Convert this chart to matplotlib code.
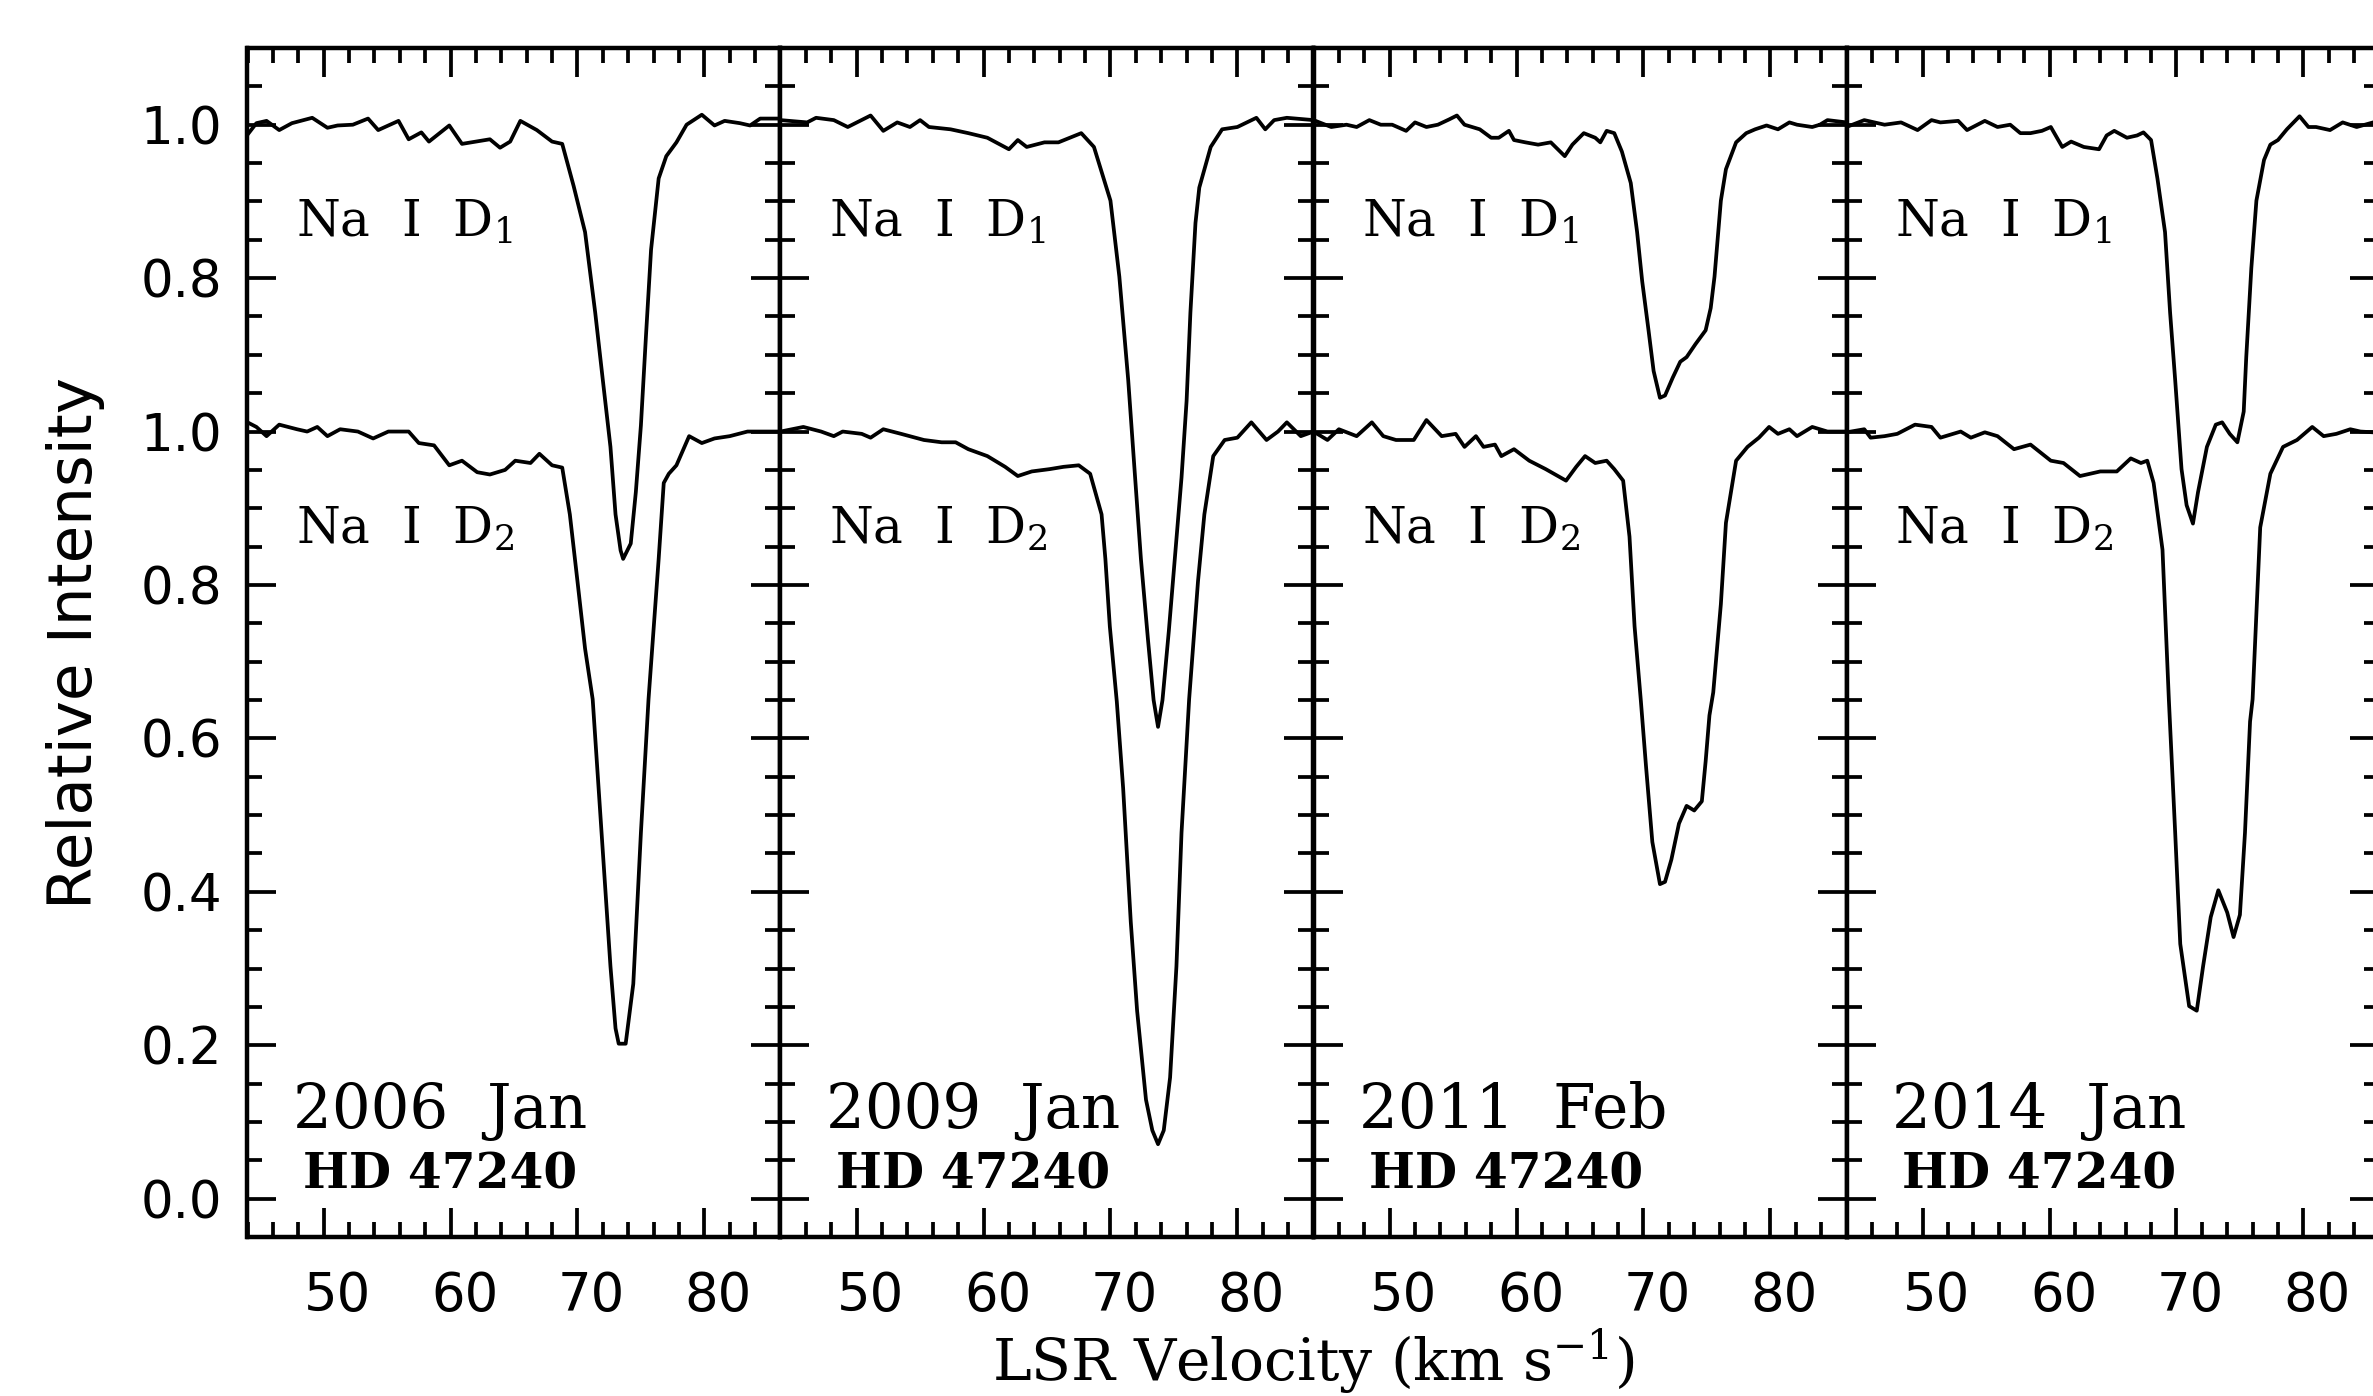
import numpy as np
import matplotlib.pyplot as plt
import matplotlib.transforms as mtransforms
from matplotlib.ticker import FixedLocator, MultipleLocator

plt.rcParams['mathtext.fontset'] = 'dejavuserif'

# ── Data (LSR velocity in km/s, relative intensity) ──

epochs = ["2006 Jan", "2009 Jan", "2011 Feb", "2014 Jan"]
star = "HD 47240"

# 2006 Jan
v_d1_2006 = [44.0, 44.7, 45.5, 46.5, 47.5, 49.1, 50.3, 51.1, 52.3, 53.5, 54.3, 55.9,
             56.7, 57.7, 58.3, 59.9, 60.9, 63.1, 63.9, 64.7, 65.5, 66.8, 68.0, 68.8,
             69.7, 70.6, 71.4, 72.0, 72.6, 73.0, 73.4, 73.6, 74.2, 74.6, 75.0, 75.4,
             75.8, 76.4, 77.0, 77.8, 78.6, 79.8, 80.8, 81.6, 82.8, 83.6, 84.4, 86.0]
f_d1_2006 = [0.987, 1.002, 1.005, 0.993, 1.002, 1.009, 0.996, 0.999, 1.000, 1.008, 0.993, 1.005,
             0.981, 0.990, 0.978, 0.999, 0.975, 0.981, 0.970, 0.978, 1.005, 0.993, 0.978, 0.975,
             0.920, 0.860, 0.755, 0.667, 0.580, 0.492, 0.445, 0.434, 0.454, 0.521, 0.608, 0.725,
             0.837, 0.930, 0.959, 0.977, 1.000, 1.013, 0.999, 1.005, 1.002, 0.999, 1.008, 1.008]
v_d2_2006 = [44.0, 44.7, 45.5, 46.5, 47.9, 48.7, 49.5, 50.3, 51.3, 52.7, 53.9, 55.1,
             56.7, 57.5, 58.7, 59.9, 60.9, 62.1, 63.1, 64.3, 65.1, 66.3, 67.0, 68.0,
             68.8, 69.4, 70.0, 70.6, 71.2, 71.9, 72.6, 73.0, 73.25, 73.8, 74.4, 75.0,
             75.6, 76.4, 76.8, 77.2, 77.8, 78.8, 79.8, 80.8, 82.0, 83.4, 84.8, 86.0]
f_d2_2006 = [1.012, 1.006, 0.994, 1.009, 1.003, 1.000, 1.006, 0.994, 1.003, 1.000, 0.991, 1.000,
             1.000, 0.985, 0.982, 0.956, 0.962, 0.947, 0.944, 0.950, 0.962, 0.959, 0.971, 0.956,
             0.953, 0.892, 0.805, 0.717, 0.651, 0.477, 0.303, 0.222, 0.202, 0.202, 0.280, 0.477,
             0.651, 0.834, 0.933, 0.945, 0.956, 0.994, 0.985, 0.991, 0.994, 1.000, 1.000, 1.000]

# 2009 Jan
v_d1_2009 = [44.0, 46.1, 46.8, 48.2, 49.3, 51.1, 52.1, 53.2, 54.2, 55.0, 55.7, 57.4,
             58.8, 60.3, 62.0, 62.7, 63.4, 64.8, 65.9, 67.7, 68.7, 70.0, 70.7, 71.4,
             71.9, 72.4, 72.95, 73.4, 73.75, 74.1, 74.6, 75.1, 75.6, 76.0, 76.3, 76.7,
             77.0, 77.9, 78.8, 80.0, 81.5, 82.2, 82.9, 83.9, 86.0]
f_d1_2009 = [1.006, 1.003, 1.009, 1.006, 0.997, 1.012, 0.992, 1.003, 0.997, 1.006, 0.997, 0.994,
             0.989, 0.983, 0.968, 0.980, 0.971, 0.977, 0.977, 0.989, 0.971, 0.901, 0.802, 0.667,
             0.550, 0.434, 0.330, 0.250, 0.215, 0.250, 0.340, 0.440, 0.540, 0.640, 0.755, 0.872,
             0.918, 0.971, 0.994, 0.997, 1.009, 0.994, 1.006, 1.009, 1.006]
v_d2_2009 = [44.0, 45.8, 47.2, 48.2, 48.9, 50.4, 51.1, 52.1, 53.5, 55.3, 56.7, 57.8,
             58.8, 60.3, 61.7, 62.7, 63.8, 65.2, 66.3, 67.5, 68.4, 69.3, 69.6, 69.95,
             70.5, 71.0, 71.6, 72.1, 72.8, 73.3, 73.75, 74.2, 74.7, 75.2, 75.6, 76.2,
             76.9, 77.4, 78.1, 79.0, 80.0, 81.1, 82.3, 83.2, 83.9, 85.0, 86.0]
f_d2_2009 = [1.000, 1.006, 1.000, 0.994, 1.000, 0.997, 0.992, 1.003, 0.997, 0.989, 0.986, 0.986,
             0.977, 0.968, 0.954, 0.942, 0.948, 0.951, 0.954, 0.956, 0.945, 0.892, 0.834, 0.746,
             0.648, 0.535, 0.361, 0.245, 0.129, 0.089, 0.071, 0.089, 0.158, 0.303, 0.477, 0.651,
             0.805, 0.892, 0.968, 0.989, 0.992, 1.012, 0.989, 1.000, 1.012, 0.994, 1.000]

# 2011 Feb
v_d1_2011 = [44.0, 45.4, 46.6, 47.4, 48.4, 49.3, 50.2, 51.3, 52.0, 52.9, 53.8, 54.7,
             55.3, 55.9, 57.1, 58.0, 58.6, 59.4, 59.8, 60.7, 61.7, 62.7, 63.8, 64.4,
             65.3, 66.2, 66.6, 67.1, 67.7, 68.3, 69.0, 69.5, 69.9, 70.4, 70.8, 71.3,
             71.7, 72.3, 72.9, 73.4, 74.1, 74.9, 75.3, 75.6, 76.1, 76.5, 77.3, 78.1,
             78.8, 79.7, 80.6, 81.5, 82.1, 83.3, 83.9, 84.5, 86.0]
f_d1_2011 = [1.006, 0.997, 1.000, 0.997, 1.006, 1.000, 1.000, 0.992, 1.003, 0.997, 1.000, 1.007,
             1.012, 1.000, 0.994, 0.983, 0.983, 0.992, 0.980, 0.977, 0.974, 0.977, 0.959, 0.974,
             0.989, 0.983, 0.977, 0.992, 0.989, 0.965, 0.924, 0.860, 0.796, 0.732, 0.679, 0.644,
             0.647, 0.670, 0.691, 0.697, 0.714, 0.732, 0.761, 0.802, 0.901, 0.942, 0.977, 0.989,
             0.994, 0.999, 0.994, 1.003, 1.000, 0.997, 1.000, 1.006, 1.003]
v_d2_2011 = [44.0, 45.1, 46.0, 47.4, 48.6, 49.5, 50.5, 51.9, 52.9, 54.1, 55.2, 55.9,
             56.8, 57.4, 58.3, 58.8, 59.8, 61.0, 62.3, 63.9, 64.7, 65.4, 66.2, 67.1,
             67.7, 68.4, 68.9, 69.3, 69.8, 70.2, 70.7, 71.3, 71.7, 72.2, 72.8, 73.4,
             74.0, 74.6, 74.9, 75.2, 75.5, 76.1, 76.5, 77.3, 78.2, 79.1, 79.9, 80.6,
             81.5, 82.1, 83.3, 84.5, 86.0]
f_d2_2011 = [1.000, 0.989, 1.003, 0.994, 1.012, 0.994, 0.989, 0.989, 1.015, 0.994, 0.997, 0.980,
             0.994, 0.980, 0.983, 0.968, 0.977, 0.962, 0.951, 0.936, 0.954, 0.968, 0.959, 0.962,
             0.951, 0.936, 0.863, 0.746, 0.648, 0.564, 0.465, 0.410, 0.413, 0.442, 0.489, 0.512,
             0.506, 0.518, 0.570, 0.630, 0.660, 0.775, 0.881, 0.962, 0.980, 0.992, 1.006, 0.997,
             1.003, 0.994, 1.006, 1.000, 1.000]

# 2014 Jan
v_d1_2014 = [44.0, 45.4, 47.0, 48.3, 49.6, 50.7, 51.4, 52.8, 53.5, 54.9, 55.9, 56.9,
             57.7, 58.5, 59.4, 60.1, 61.0, 61.7, 62.7, 63.9, 64.5, 65.1, 66.1, 66.9,
             67.4, 68.0, 68.5, 69.1, 69.5, 69.9, 70.4, 70.8, 71.3, 71.7, 72.4, 73.1,
             73.6, 74.2, 74.8, 75.3, 75.5, 75.9, 76.3, 76.9, 77.4, 78.0, 78.7, 79.7,
             80.4, 81.0, 82.1, 83.1, 84.2, 85.5, 86.0]
f_d1_2014 = [0.997, 1.006, 1.000, 1.003, 0.993, 1.006, 1.003, 1.005, 0.993, 1.005, 0.997, 1.000,
             0.989, 0.989, 0.992, 0.997, 0.971, 0.978, 0.971, 0.968, 0.986, 0.992, 0.983, 0.986,
             0.990, 0.980, 0.930, 0.860, 0.755, 0.667, 0.551, 0.504, 0.480, 0.521, 0.580, 0.609,
             0.612, 0.597, 0.586, 0.626, 0.697, 0.813, 0.901, 0.954, 0.974, 0.980, 0.994, 1.011,
             0.997, 0.997, 0.993, 1.003, 0.997, 1.003, 1.003]
v_d2_2014 = [44.0, 45.4, 45.9, 47.0, 48.0, 49.4, 50.7, 51.4, 53.0, 53.8, 54.9, 55.9,
             57.2, 58.5, 60.1, 61.1, 62.4, 64.0, 65.3, 66.4, 67.2, 67.7, 68.2, 68.9,
             69.4, 69.9, 70.3, 71.0, 71.6, 72.1, 72.7, 73.3, 74.0, 74.5, 75.0, 75.4,
             75.8, 76.0, 76.6, 77.4, 78.4, 79.5, 80.7, 81.6, 82.6, 83.7, 84.5, 85.5, 86.0]
f_d2_2014 = [0.999, 1.003, 0.992, 0.994, 0.997, 1.009, 1.006, 0.992, 1.000, 0.992, 0.999, 0.994,
             0.977, 0.983, 0.962, 0.959, 0.942, 0.948, 0.948, 0.965, 0.959, 0.962, 0.933, 0.846,
             0.651, 0.477, 0.332, 0.251, 0.245, 0.303, 0.367, 0.402, 0.373, 0.341, 0.370, 0.477,
             0.622, 0.651, 0.875, 0.945, 0.980, 0.989, 1.006, 0.994, 0.997, 1.003, 1.000, 0.999, 1.000]

d1_velocities = [v_d1_2006, v_d1_2009, v_d1_2011, v_d1_2014]
d1_fluxes = [f_d1_2006, f_d1_2009, f_d1_2011, f_d1_2014]
d2_velocities = [v_d2_2006, v_d2_2009, v_d2_2011, v_d2_2014]
d2_fluxes = [f_d2_2006, f_d2_2009, f_d2_2011, f_d2_2014]

D1_OFFSET = 0.4
xticks = [50, 60, 70, 80]
yticks = [0.0, 0.2, 0.4, 0.6, 0.8, 1.0, 1.2, 1.4]
ytick_labels = ["0.0", "0.2", "0.4", "0.6", "0.8", "1.0", "0.8", "1.0"]

# ── Figure layout (pixels of the 2373 x 1396 original) ──
W, H = 2373, 1396
fig = plt.figure(figsize=(W / 100, H / 100), dpi=100)

panel_left, panel_w = 247.5, 533.0
top_px, bot_px = 48.0, 1237.0
label_shift = mtransforms.ScaledTranslation(14 / 100, 0, fig.dpi_scale_trans)

serif = "DejaVu Serif"
sans = "DejaVu Sans"

for k in range(4):
    ax = fig.add_axes([(panel_left + k * panel_w) / W, (H - bot_px) / H,
                       panel_w / W, (bot_px - top_px) / H])

    ax.plot(d2_velocities[k], d2_fluxes[k], color="black", lw=2.7)
    ax.plot(d1_velocities[k], np.array(d1_fluxes[k]) + D1_OFFSET, color="black", lw=2.7)

    ax.set_xlim(44, 86)
    ax.set_ylim(-0.05, 1.5)

    ax.xaxis.set_major_locator(FixedLocator(xticks))
    ax.xaxis.set_minor_locator(MultipleLocator(2))
    ax.yaxis.set_major_locator(FixedLocator(yticks))
    ax.yaxis.set_minor_locator(MultipleLocator(0.05))

    ax.tick_params(which="both", direction="in", top=True, right=True,
                   width=2.7, color="black")
    ax.tick_params(which="major", length=21)
    ax.tick_params(which="minor", length=10.5)
    ax.tick_params(axis="x", labelsize=38, pad=24)
    ax.tick_params(axis="y", labelsize=37, pad=18)

    ax.set_xticklabels([str(t) for t in xticks], family=sans)
    for lab in ax.get_xticklabels():
        lab.set_transform(lab.get_transform() + label_shift)

    if k == 0:
        ax.set_yticklabels(ytick_labels, family=sans)
    else:
        ax.tick_params(axis="y", labelleft=False)

    for sp in ax.spines.values():
        sp.set_linewidth(3.2)

    # labels inside the panel
    ax.text(47.8, 1.255, r"Na  I  D$_1$", fontsize=36, family=serif)
    ax.text(47.8, 0.855, r"Na  I  D$_2$", fontsize=36, family=serif)
    ax.text(47.55, 0.092, epochs[k].replace(" ", "  "), fontsize=44, family=serif)
    ax.text(48.4, 0.013, star, fontsize=35, family=serif, fontweight="bold")

fig.text(76 / W, 1 - 643 / H, "Relative Intensity", rotation=90,
         ha="center", va="center", fontsize=44, family=sans)
fig.text(1313 / W, 16 / H, r"LSR Velocity (km s$^{-1}$)",
         ha="center", va="baseline", fontsize=42, family=serif)

fig.savefig("out.png", dpi=100)
